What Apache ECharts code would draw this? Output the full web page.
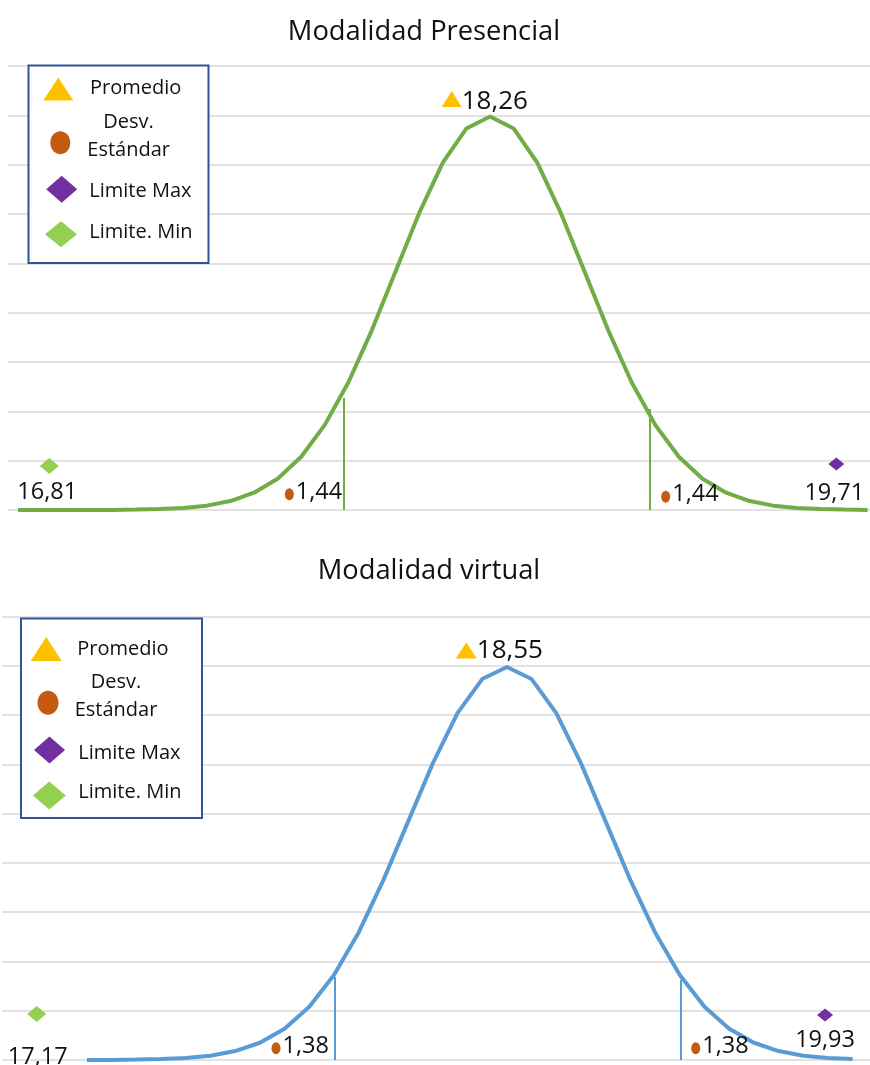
<!DOCTYPE html>
<html>
<head>
<meta charset="utf-8">
<script src="https://cdn.jsdelivr.net/npm/echarts@6/dist/echarts.min.js"></script>
<style>
html,body{margin:0;padding:0;background:#fff;}
#chart{width:870px;height:1065px;}
</style>
</head>
<body>
<div id="chart"></div>
<script>
// ---------- DATA ----------
const titles = ['Modalidad Presencial', 'Modalidad virtual'];
const legendLabels = ['Promedio', 'Desv.\nEstándar', 'Limite Max', 'Limite. Min'];

// Presencial curve (z, density)
const zPresencial = [-5,-4.75,-4.5,-4.25,-4,-3.75,-3.5,-3.25,-3,-2.75,-2.5,-2.25,-2,-1.75,-1.5,-1.25,-1,-0.75,-0.5,-0.25,0,0.25,0.5,0.75,1,1.25,1.5,1.75,2,2.25,2.5,2.75,3,3.25,3.5,3.75,4];
const densityPresencial = [0,0,0,0,0.0001,0.0004,0.0009,0.002,0.0044,0.0091,0.0175,0.0317,0.054,0.0863,0.1295,0.1826,0.242,0.3011,0.3521,0.3867,0.3989,0.3867,0.3521,0.3011,0.242,0.1826,0.1295,0.0863,0.054,0.0317,0.0175,0.0091,0.0044,0.002,0.0009,0.0004,0.0001];

// Virtual curve (z, density)
const zVirtual = [-4.25,-4,-3.75,-3.5,-3.25,-3,-2.75,-2.5,-2.25,-2,-1.75,-1.5,-1.25,-1,-0.75,-0.5,-0.25,0,0.25,0.5,0.75,1,1.25,1.5,1.75,2,2.25,2.5,2.75,3,3.25,3.5];
const densityVirtual = [0,0.0001,0.0004,0.0009,0.002,0.0044,0.0091,0.0175,0.0317,0.054,0.0863,0.1295,0.1826,0.242,0.3011,0.3521,0.3867,0.3989,0.3867,0.3521,0.3011,0.242,0.1826,0.1295,0.0863,0.054,0.0317,0.0175,0.0091,0.0044,0.002,0.0009];

// markers [z, density, label]
const presPromedio = [[-0.406, 0.4166, '18,26']];
const presDesv = [[-2.126, 0.0159, '1,44'], [1.861, 0.0135, '1,44']];
const presMax = [[3.668, 0.0466, '19,71']];
const presMin = [[-4.669, 0.0446, '16,81']];
const presSdLines = [[-1.547, 0.1135], [1.695, 0.1024]];

const virtPromedio = [[-0.411, 0.4157, '18,55']];
const virtDesv = [[-2.337, 0.0119, '1,38'], [1.911, 0.0119, '1,38']];
const virtMax = [[3.220, 0.0457, '19,93']];
const virtMin = [[-4.759, 0.0467, '17,17']];
const virtSdLines = [[-1.740, 0.0843], [1.762, 0.0812]];

// ---------- STYLE ----------
const FONT = '"Open Sans", "Noto Sans", sans-serif';
const C = {
  promedio: '#FFC000', desv: '#C55A11', max: '#7030A0', min: '#92D050',
  green: '#70AD47', blue: '#5B9BD5', grid: '#D9D9D9', box: '#2F5597', text: '#111'
};

const chart = echarts.init(document.getElementById('chart'), null, {renderer: 'canvas'});

function yAxis(idx) {
  return {
    gridIndex: idx, type: 'value', min: 0, max: 0.45, interval: 0.05,
    axisLabel: {show: false}, axisLine: {show: false}, axisTick: {show: false},
    splitLine: {show: true, lineStyle: {color: C.grid, width: 1.6}}
  };
}
function xAxis(idx, min, max) {
  return {
    gridIndex: idx, type: 'value', min: min, max: max,
    axisLabel: {show: false}, axisLine: {show: false}, axisTick: {show: false},
    splitLine: {show: false}
  };
}
function curve(idx, zs, ds, color) {
  return {
    type: 'line', xAxisIndex: idx, yAxisIndex: idx,
    data: zs.map((z, i) => [z, ds[i]]),
    showSymbol: false, smooth: false, silent: true, z: 3,
    lineStyle: {color: color, width: 4}
  };
}
function sdLines(idx, pts, color) {
  return {
    type: 'lines', coordinateSystem: 'cartesian2d', xAxisIndex: idx, yAxisIndex: idx,
    z: 2, silent: true,
    lineStyle: {color: color, width: 2, opacity: 1},
    data: pts.map(p => ({coords: [[p[0], 0], [p[0], p[1]]]}))
  };
}
function markers(idx, data, symbol, size, color, label) {
  return {
    type: 'scatter', xAxisIndex: idx, yAxisIndex: idx, z: 5, silent: true,
    symbol: symbol, symbolSize: size, itemStyle: {color: color, opacity: 1},
    data: data,
    label: Object.assign({show: true, formatter: p => p.data[2], color: C.text,
      fontFamily: FONT, fontSize: 23.5}, label)
  };
}

function legendGraphics(box, items, textPos, descCenter) {
  const g = [];
  g.push({type: 'rect', shape: {x: box[0], y: box[1], width: box[2], height: box[3]},
    style: {fill: '#fff', stroke: C.box, lineWidth: 2}, z: 10});
  const t = items[0];
  g.push({type: 'polygon', shape: {points: [[t[0], t[1] - t[3] / 2], [t[0] + t[2] / 2, t[1] + t[3] / 2], [t[0] - t[2] / 2, t[1] + t[3] / 2]]},
    style: {fill: C.promedio}, z: 11});
  const c = items[1];
  g.push({type: 'ellipse', shape: {cx: c[0], cy: c[1], rx: c[2] / 2, ry: c[3] / 2}, style: {fill: C.desv}, z: 11});
  [[items[2], C.max], [items[3], C.min]].forEach(([d, col]) => {
    g.push({type: 'polygon', shape: {points: [[d[0], d[1] - d[3] / 2], [d[0] + d[2] / 2, d[1]], [d[0], d[1] + d[3] / 2], [d[0] - d[2] / 2, d[1]]]},
      style: {fill: col}, z: 11});
  });
  textPos.forEach((p, i) => {
    if (i === 1) return;
    g.push({type: 'text', z: 12, style: {text: legendLabels[i], x: p[0], y: p[1], fill: C.text,
      font: '20px ' + FONT, align: 'left', verticalAlign: 'middle'}});
  });
  g.push({type: 'text', z: 12, style: {text: legendLabels[1], x: descCenter[0], y: descCenter[1], fill: C.text,
    font: '20px ' + FONT, align: 'center', verticalAlign: 'middle', lineHeight: 28}});
  return g;
}

const option = {
  animation: false,
  backgroundColor: '#fff',
  title: [
    {text: titles[0], left: 419, top: 14, textAlign: 'center',
      textStyle: {fontFamily: FONT, fontSize: 27.3, fontWeight: 'normal', color: C.text}},
    {text: titles[1], left: 424, top: 553, textAlign: 'center',
      textStyle: {fontFamily: FONT, fontSize: 27.3, fontWeight: 'normal', color: C.text}}
  ],
  grid: [
    {left: 8, top: 66, width: 862, height: 444},
    {left: 2, top: 616.7, width: 868, height: 443.3}
  ],
  xAxis: [xAxis(0, -5.106, 4.025), xAxis(1, -5.110, 3.675)],
  yAxis: [yAxis(0), yAxis(1)],
  series: [
    curve(0, zPresencial, densityPresencial, C.green),
    sdLines(0, presSdLines, C.green),
    markers(0, presPromedio, 'triangle', [20, 16], C.promedio, {position: 'right', distance: 0, fontSize: 26, offset: [0, 3]}),
    markers(0, presDesv, 'circle', [9, 12], C.desv, {position: 'right', distance: 2, offset: [0, -2]}),
    markers(0, presMax, 'diamond', [16, 13], C.max, {position: 'inside', offset: [-2, 29]}),
    markers(0, presMin, 'diamond', [19, 16], C.min, {position: 'inside', offset: [-2, 26]}),

    curve(1, zVirtual, densityVirtual, C.blue),
    sdLines(1, virtSdLines, C.blue),
    markers(1, virtPromedio, 'triangle', [21, 16], C.promedio, {position: 'right', distance: 0, fontSize: 26, offset: [0, 0]}),
    markers(1, virtDesv, 'circle', [9, 12], C.desv, {position: 'right', distance: 2, offset: [0, -2]}),
    markers(1, virtMax, 'diamond', [16, 13], C.max, {position: 'inside', offset: [0, 25]}),
    markers(1, virtMin, 'diamond', [19, 16], C.min, {position: 'inside', offset: [1, 43]})
  ],
  graphic: [].concat(
    legendGraphics([28.5, 65.5, 180, 197.5],
      [[58.3, 89, 30, 23], [60.3, 142.7, 20, 23], [61.7, 189.3, 31, 27], [61, 234.3, 32, 26]],
      [[90, 88.5], null, [89.3, 191.7], [89.3, 232.5]], [128.6, 136]),
    legendGraphics([21, 618.5, 181, 199.5],
      [[46.2, 649, 31, 24], [48, 702.8, 21, 24], [49.5, 750, 31, 27], [49.3, 795.5, 33, 28]],
      [[77.3, 648.8], null, [78.3, 753.3], [78.3, 792.5]], [116, 696.5])
  )
};
chart.setOption(option);
</script>
</body>
</html>
